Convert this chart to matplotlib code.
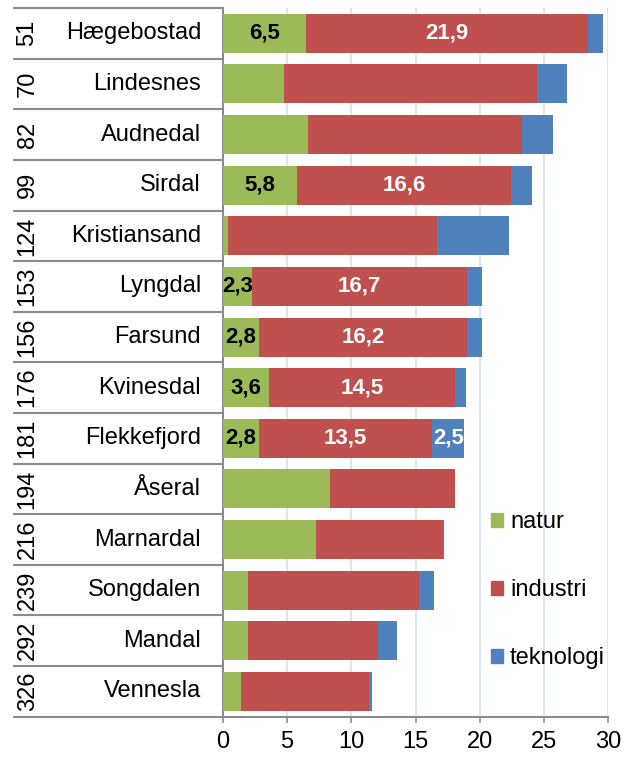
import numpy as np
import matplotlib.pyplot as plt
from matplotlib.transforms import blended_transform_factory
from matplotlib.patches import Patch

plt.rcParams['font.family'] = ['Liberation Sans', 'DejaVu Sans']

ranks = ["51", "70", "82", "99", "124", "153", "156", "176", "181", "194", "216", "239", "292", "326"]
kommuner = ["Hægebostad", "Lindesnes", "Audnedal", "Sirdal", "Kristiansand", "Lyngdal", "Farsund",
            "Kvinesdal", "Flekkefjord", "Åseral", "Marnardal", "Songdalen", "Mandal", "Vennesla"]
natur = [6.5, 4.75, 6.65, 5.8, 0.4, 2.3, 2.8, 3.6, 2.8, 8.35, 7.25, 2.0, 2.0, 1.4]
industri = [21.9, 19.7, 16.6, 16.6, 16.25, 16.7, 16.2, 14.5, 13.5, 9.7, 9.85, 13.3, 10.1, 10.0]
teknologi = [1.15, 2.35, 2.45, 1.65, 5.65, 1.2, 1.15, 0.8, 2.5, 0.0, 0.1, 1.15, 1.45, 0.25]
# which rows carry data labels
labelled = ["Hægebostad", "Sirdal", "Lyngdal", "Farsund", "Kvinesdal", "Flekkefjord"]
labelled_tek = ["Flekkefjord"]

green, red, blue = '#9BBB59', '#C0504D', '#4F81BD'
grey = '#8C8C8C'
fs = 17
lfs = 16  # data labels

fig = plt.figure(figsize=(6.27, 7.58), dpi=100)
ax = fig.add_axes([0.3552, 0.0545, 0.6150, 0.9349])

y = np.arange(len(kommuner))
natur = np.array(natur)
industri = np.array(industri)
teknologi = np.array(teknologi)
h = 0.77

ax.barh(y, natur, height=h, color=green, zorder=3)
ax.barh(y, industri, left=natur, height=h, color=red, zorder=3)
ax.barh(y, teknologi, left=natur + industri, height=h, color=blue, zorder=3)

fmt = lambda v: f"{v:.1f}".replace('.', ',')
for i, k in enumerate(kommuner):
    if k in labelled:
        ax.text(natur[i] / 2, i, fmt(natur[i]), ha='center', va='center',
                fontsize=lfs, fontweight='bold', color='black', zorder=4)
        ax.text(natur[i] + industri[i] / 2, i, fmt(industri[i]), ha='center', va='center',
                fontsize=lfs, fontweight='bold', color='white', zorder=4)
    if k in labelled_tek:
        ax.text(natur[i] + industri[i] + teknologi[i] / 2, i, fmt(teknologi[i]), ha='center',
                va='center', fontsize=lfs, fontweight='bold', color='white', zorder=4)

ax.set_xlim(0, 30)
ax.set_ylim(len(kommuner) - 0.5, -0.5)
ax.set_xticks(np.arange(0, 31, 5))
ax.tick_params(axis='x', labelsize=fs, length=4, color=grey, width=1.2, pad=6)
ax.grid(axis='x', color='#D6E0F0', linewidth=1.2, zorder=0)

# left "table" made from long tick marks at row boundaries
ax.set_yticks([])
ax.set_yticks(np.arange(-0.5, len(kommuner), 1), minor=True)
ax.tick_params(axis='y', which='minor', length=151, color=grey, width=1.5)
ax.tick_params(axis='y', which='major', length=0)

for s in ['top', 'right']:
    ax.spines[s].set_visible(False)
ax.spines['left'].set_color(grey)
ax.spines['bottom'].set_color(grey)
ax.spines['left'].set_linewidth(1.5)
ax.spines['bottom'].set_linewidth(1.5)

tr = blended_transform_factory(fig.transFigure, ax.transData)
for i, (r, k) in enumerate(zip(ranks, kommuner)):
    ax.text(0.3206, i, k, transform=tr, ha='right', va='center', fontsize=fs)
    ax.text(0.044, i, r, transform=tr, ha='center', va='center', fontsize=fs, rotation=90)

handles = [Patch(color=green), Patch(color=red), Patch(color=blue)]
ax.legend(handles, ['natur', 'industri', 'teknologi'], loc='upper left',
          bbox_to_anchor=(0.696, 0.29), borderaxespad=0, borderpad=0, frameon=False,
          fontsize=fs, handlelength=0.5, handleheight=0.5, handletextpad=0.3,
          labelspacing=1.95)

fig.savefig('out.png', dpi=100)
